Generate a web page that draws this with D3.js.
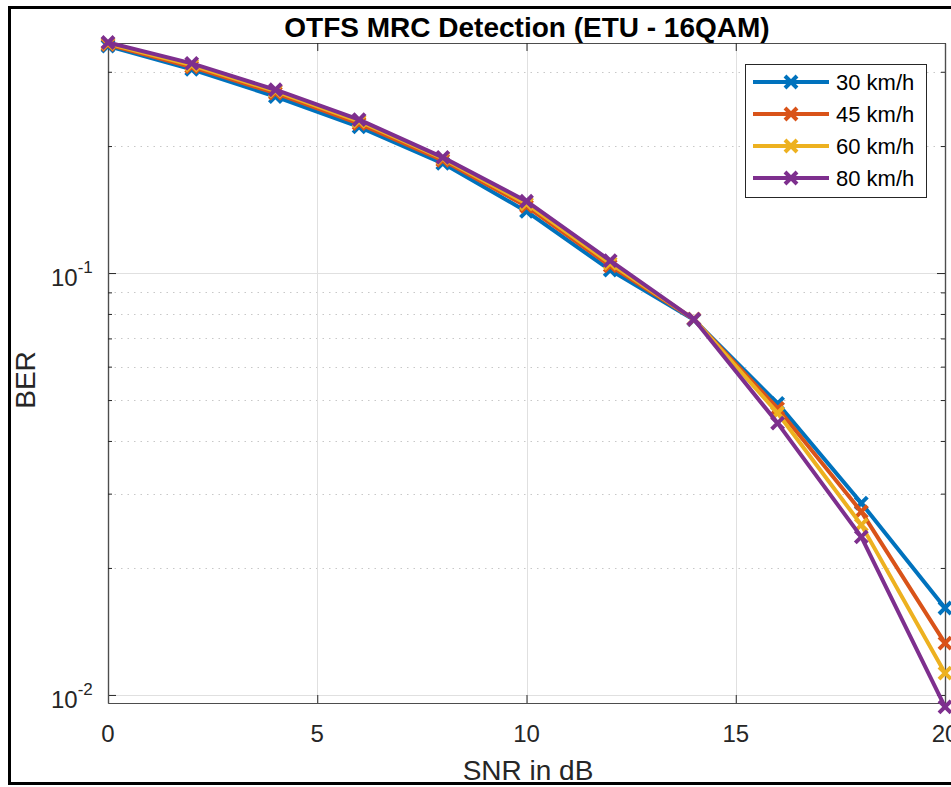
<!DOCTYPE html>
<html>
<head>
<meta charset="utf-8">
<script src="https://cdn.jsdelivr.net/npm/d3@7"></script>
<style>
  html, body { margin: 0; padding: 0; background: #fff; }
  svg { display: block; }
  text { font-family: "Liberation Sans", Arial, Helvetica, sans-serif; }
</style>
</head>
<body>
<svg id="chart" width="951" height="787"></svg>
<script>
// SNR points (dB)
const snr = [0, 2, 4, 6, 8, 10, 12, 14, 16, 18, 20];

// BER per vehicle speed
const ber30 = [0.345, 0.304, 0.262, 0.222, 0.182, 0.140, 0.1016, 0.0775, 0.0491, 0.0285, 0.01607];
const ber45 = [0.348, 0.308, 0.267, 0.226, 0.185, 0.144, 0.1040, 0.0777, 0.0478, 0.0272, 0.01327];
const ber60 = [0.350, 0.311, 0.270, 0.229, 0.187, 0.146, 0.1055, 0.0778, 0.0466, 0.0253, 0.01127];
const ber80 = [0.352, 0.314, 0.272, 0.231, 0.188, 0.148, 0.1070, 0.0777, 0.0441, 0.0237, 0.00937];

const seriesNames = ["30 km/h", "45 km/h", "60 km/h", "80 km/h"];
const seriesColors = ["#0072BD", "#D95319", "#EDB120", "#7E2F8E"];

const xTicks = [0, 5, 10, 15, 20];
const yMajorTicks = [0.01, 0.1];
const yMinorTicks = [0.02, 0.03, 0.04, 0.05, 0.06, 0.07, 0.08, 0.09, 0.2, 0.3];

const titleText = "OTFS MRC Detection (ETU - 16QAM)";
const xLabelText = "SNR in dB";
const yLabelText = "BER";

const series = [ber30, ber45, ber60, ber80].map((v, i) => ({
  name: seriesNames[i],
  color: seriesColors[i],
  points: snr.map((s, j) => ({ x: s, y: v[j] }))
}));

const svg = d3.select("#chart");
const plot = { left: 108, right: 945, top: 43, bottom: 703 };

const x = d3.scaleLinear().domain([0, 20]).range([plot.left, plot.right]);
const y = d3.scaleLog().domain([0.00957, 0.351]).range([plot.bottom, plot.top]);

// figure frame
svg.append("rect")
  .attr("x", 9.5).attr("y", 7.5)
  .attr("width", 1000).attr("height", 776)
  .attr("fill", "#fff").attr("stroke", "#000").attr("stroke-width", 3);

// plot background
svg.append("rect")
  .attr("x", plot.left).attr("y", plot.top)
  .attr("width", plot.right - plot.left).attr("height", plot.bottom - plot.top)
  .attr("fill", "#fff");

const grid = svg.append("g");
// minor y grid (dotted)
grid.selectAll("line.ymin").data(yMinorTicks).join("line")
  .attr("x1", plot.left).attr("x2", plot.right)
  .attr("y1", d => Math.round(y(d)) + 0.5).attr("y2", d => Math.round(y(d)) + 0.5)
  .attr("stroke", "#c8c8c8").attr("stroke-width", 1).attr("stroke-dasharray", "1.5,5");
// major y grid
grid.selectAll("line.ymaj").data(yMajorTicks).join("line")
  .attr("x1", plot.left).attr("x2", plot.right)
  .attr("y1", d => Math.round(y(d)) + 0.5).attr("y2", d => Math.round(y(d)) + 0.5)
  .attr("stroke", "#e0e0e0").attr("stroke-width", 1);
// major x grid
grid.selectAll("line.xmaj").data(xTicks).join("line")
  .attr("x1", d => Math.round(x(d)) + 0.5).attr("x2", d => Math.round(x(d)) + 0.5)
  .attr("y1", plot.top).attr("y2", plot.bottom)
  .attr("stroke", "#e0e0e0").attr("stroke-width", 1);

// axes (inward ticks on all four sides)
const axisColor = "#4d4d4d";
const tickColor = "#262626";
const fmtNone = () => "";

const xBottom = svg.append("g").attr("transform", `translate(0,${plot.bottom})`)
  .call(d3.axisBottom(x).tickValues(xTicks).tickSizeInner(-8).tickSizeOuter(0).tickFormat(fmtNone));
const xTop = svg.append("g").attr("transform", `translate(0,${plot.top})`)
  .call(d3.axisTop(x).tickValues(xTicks).tickSizeInner(-8).tickSizeOuter(0).tickFormat(fmtNone));
const yLeft = svg.append("g").attr("transform", `translate(${plot.left},0)`)
  .call(d3.axisLeft(y).tickValues(yMajorTicks).tickSizeInner(-8).tickSizeOuter(0).tickFormat(fmtNone));
const yRight = svg.append("g").attr("transform", `translate(${plot.right},0)`)
  .call(d3.axisRight(y).tickValues(yMajorTicks).tickSizeInner(-8).tickSizeOuter(0).tickFormat(fmtNone));
const yLeftMinor = svg.append("g").attr("transform", `translate(${plot.left},0)`)
  .call(d3.axisLeft(y).tickValues(yMinorTicks).tickSizeInner(-4).tickSizeOuter(0).tickFormat(fmtNone));
const yRightMinor = svg.append("g").attr("transform", `translate(${plot.right},0)`)
  .call(d3.axisRight(y).tickValues(yMinorTicks).tickSizeInner(-4).tickSizeOuter(0).tickFormat(fmtNone));

[xBottom, xTop, yLeft, yRight, yLeftMinor, yRightMinor].forEach(g => {
  g.select(".domain").attr("stroke", axisColor).attr("stroke-width", 1.2);
  g.selectAll(".tick line").attr("stroke", tickColor).attr("stroke-width", 1);
});

// x tick labels
svg.append("g").selectAll("text").data(xTicks).join("text")
  .attr("x", d => x(d)).attr("y", 742)
  .attr("text-anchor", "middle")
  .attr("font-size", 24).attr("fill", "#262626")
  .text(d => d);

// y tick labels as powers of ten
const yl = svg.append("g").selectAll("text").data(yMajorTicks).join("text")
  .attr("x", 51).attr("y", d => y(d) + 13)
  .attr("text-anchor", "start")
  .attr("font-size", 24).attr("fill", "#262626");
yl.append("tspan").text("10");
yl.append("tspan").attr("dy", -13).attr("font-size", 17).text(d => Math.round(Math.log10(d)));

// data lines and markers
const line = d3.line().x(d => x(d.x)).y(d => y(d.y));
const gSeries = svg.append("g");
series.forEach(s => {
  gSeries.append("path")
    .datum(s.points)
    .attr("d", line)
    .attr("fill", "none").attr("stroke", s.color)
    .attr("stroke-width", 4).attr("stroke-linejoin", "round");
  gSeries.append("g").selectAll("path").data(s.points).join("path")
    .attr("transform", d => `translate(${x(d.x)},${y(d.y)})`)
    .attr("d", "M-6,-6L6,6M-6,6L6,-6")
    .attr("stroke", s.color).attr("stroke-width", 4).attr("fill", "none");
});

// title and axis labels
svg.append("text")
  .attr("x", 527).attr("y", 37)
  .attr("text-anchor", "middle").attr("font-size", 28).attr("font-weight", "bold")
  .attr("fill", "#000")
  .text(titleText);

svg.append("text")
  .attr("x", 528).attr("y", 780)
  .attr("text-anchor", "middle").attr("font-size", 28).attr("fill", "#262626")
  .text(xLabelText);

svg.append("text")
  .attr("transform", `translate(35,380) rotate(-90)`)
  .attr("text-anchor", "middle").attr("font-size", 28).attr("fill", "#262626")
  .text(yLabelText);

// legend
const lg = svg.append("g");
lg.append("rect")
  .attr("x", 745.5).attr("y", 64.5).attr("width", 181).attr("height", 133)
  .attr("fill", "#fff").attr("stroke", "#262626").attr("stroke-width", 1);
series.forEach((s, i) => {
  const yy = 82 + i * 32;
  lg.append("line")
    .attr("x1", 753).attr("x2", 829).attr("y1", yy).attr("y2", yy)
    .attr("stroke", s.color).attr("stroke-width", 4);
  lg.append("path")
    .attr("transform", `translate(791,${yy})`)
    .attr("d", "M-6,-6L6,6M-6,6L6,-6")
    .attr("stroke", s.color).attr("stroke-width", 4);
  lg.append("text")
    .attr("x", 836).attr("y", yy + 8)
    .attr("font-size", 22).attr("fill", "#000")
    .text(s.name);
});
</script>
</body>
</html>
